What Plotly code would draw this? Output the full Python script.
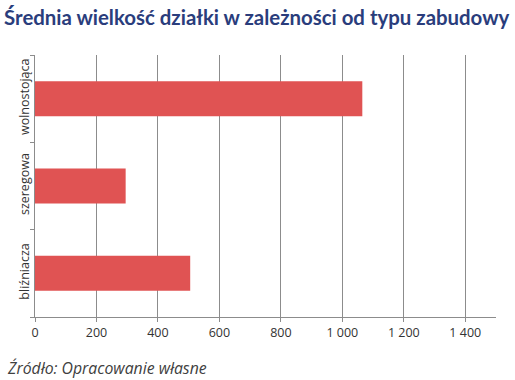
import plotly.graph_objects as go

categories = ["bliźniacza", "szeregowa", "wolnostojąca"]
values = [505, 295, 1065]
x_tickvals = [0, 200, 400, 600, 800, 1000, 1200, 1400]
x_ticktext = ["0", "200", "400", "600", "800", "1 000", "1 200", "1 400"]

fig = go.Figure()
fig.add_trace(go.Bar(
    y=categories, x=values, orientation="h",
    marker=dict(color="#E05353", line=dict(width=0)),
))

fig.update_layout(
    width=515, height=380,
    paper_bgcolor="white", plot_bgcolor="white",
    margin=dict(l=35, r=19, t=55, b=63),
    bargap=0.6,
    showlegend=False,
    title=dict(
        text="<b>Średnia wielkość działki w zależności od typu zabudowy</b>",
        x=0.008, xanchor="left", xref="container", yref="container",
        y=0.953, yanchor="middle",
        font=dict(family="Lato", size=20.4, color="#2A3D7C"),
    ),
    font=dict(family="Open Sans", color="#404040"),
)

fig.update_xaxes(
    range=[0, 1500],
    tickvals=x_tickvals, ticktext=x_ticktext,
    showgrid=True, gridcolor="#8C8C8C", gridwidth=1,
    showline=True, linecolor="#8C8C8C", linewidth=1,
    ticks="outside", ticklen=4, tickcolor="#8C8C8C",
    tickfont=dict(size=12.5, color="#333333"),
    zeroline=False, automargin=False,
)
fig.update_yaxes(
    showline=True, linecolor="#8C8C8C", linewidth=1,
    ticks="outside", ticklen=4, tickcolor="#8C8C8C",
    tickson="boundaries",
    tickangle=-90,
    tickfont=dict(size=12.5, color="#333333"),
    showgrid=False, automargin=False,
)

fig.add_annotation(
    text="<i>Źródło: Opracowanie własne</i>",
    xref="paper", yref="paper", x=-0.066, y=-0.195,
    xanchor="left", yanchor="middle", showarrow=False,
    font=dict(family="Open Sans", size=15.8, color="#404040"),
)

fig.write_html(
    "out.html",
    config={"displayModeBar": False},
    post_script="document.body.style.margin='0';document.body.style.padding='0';",
)
